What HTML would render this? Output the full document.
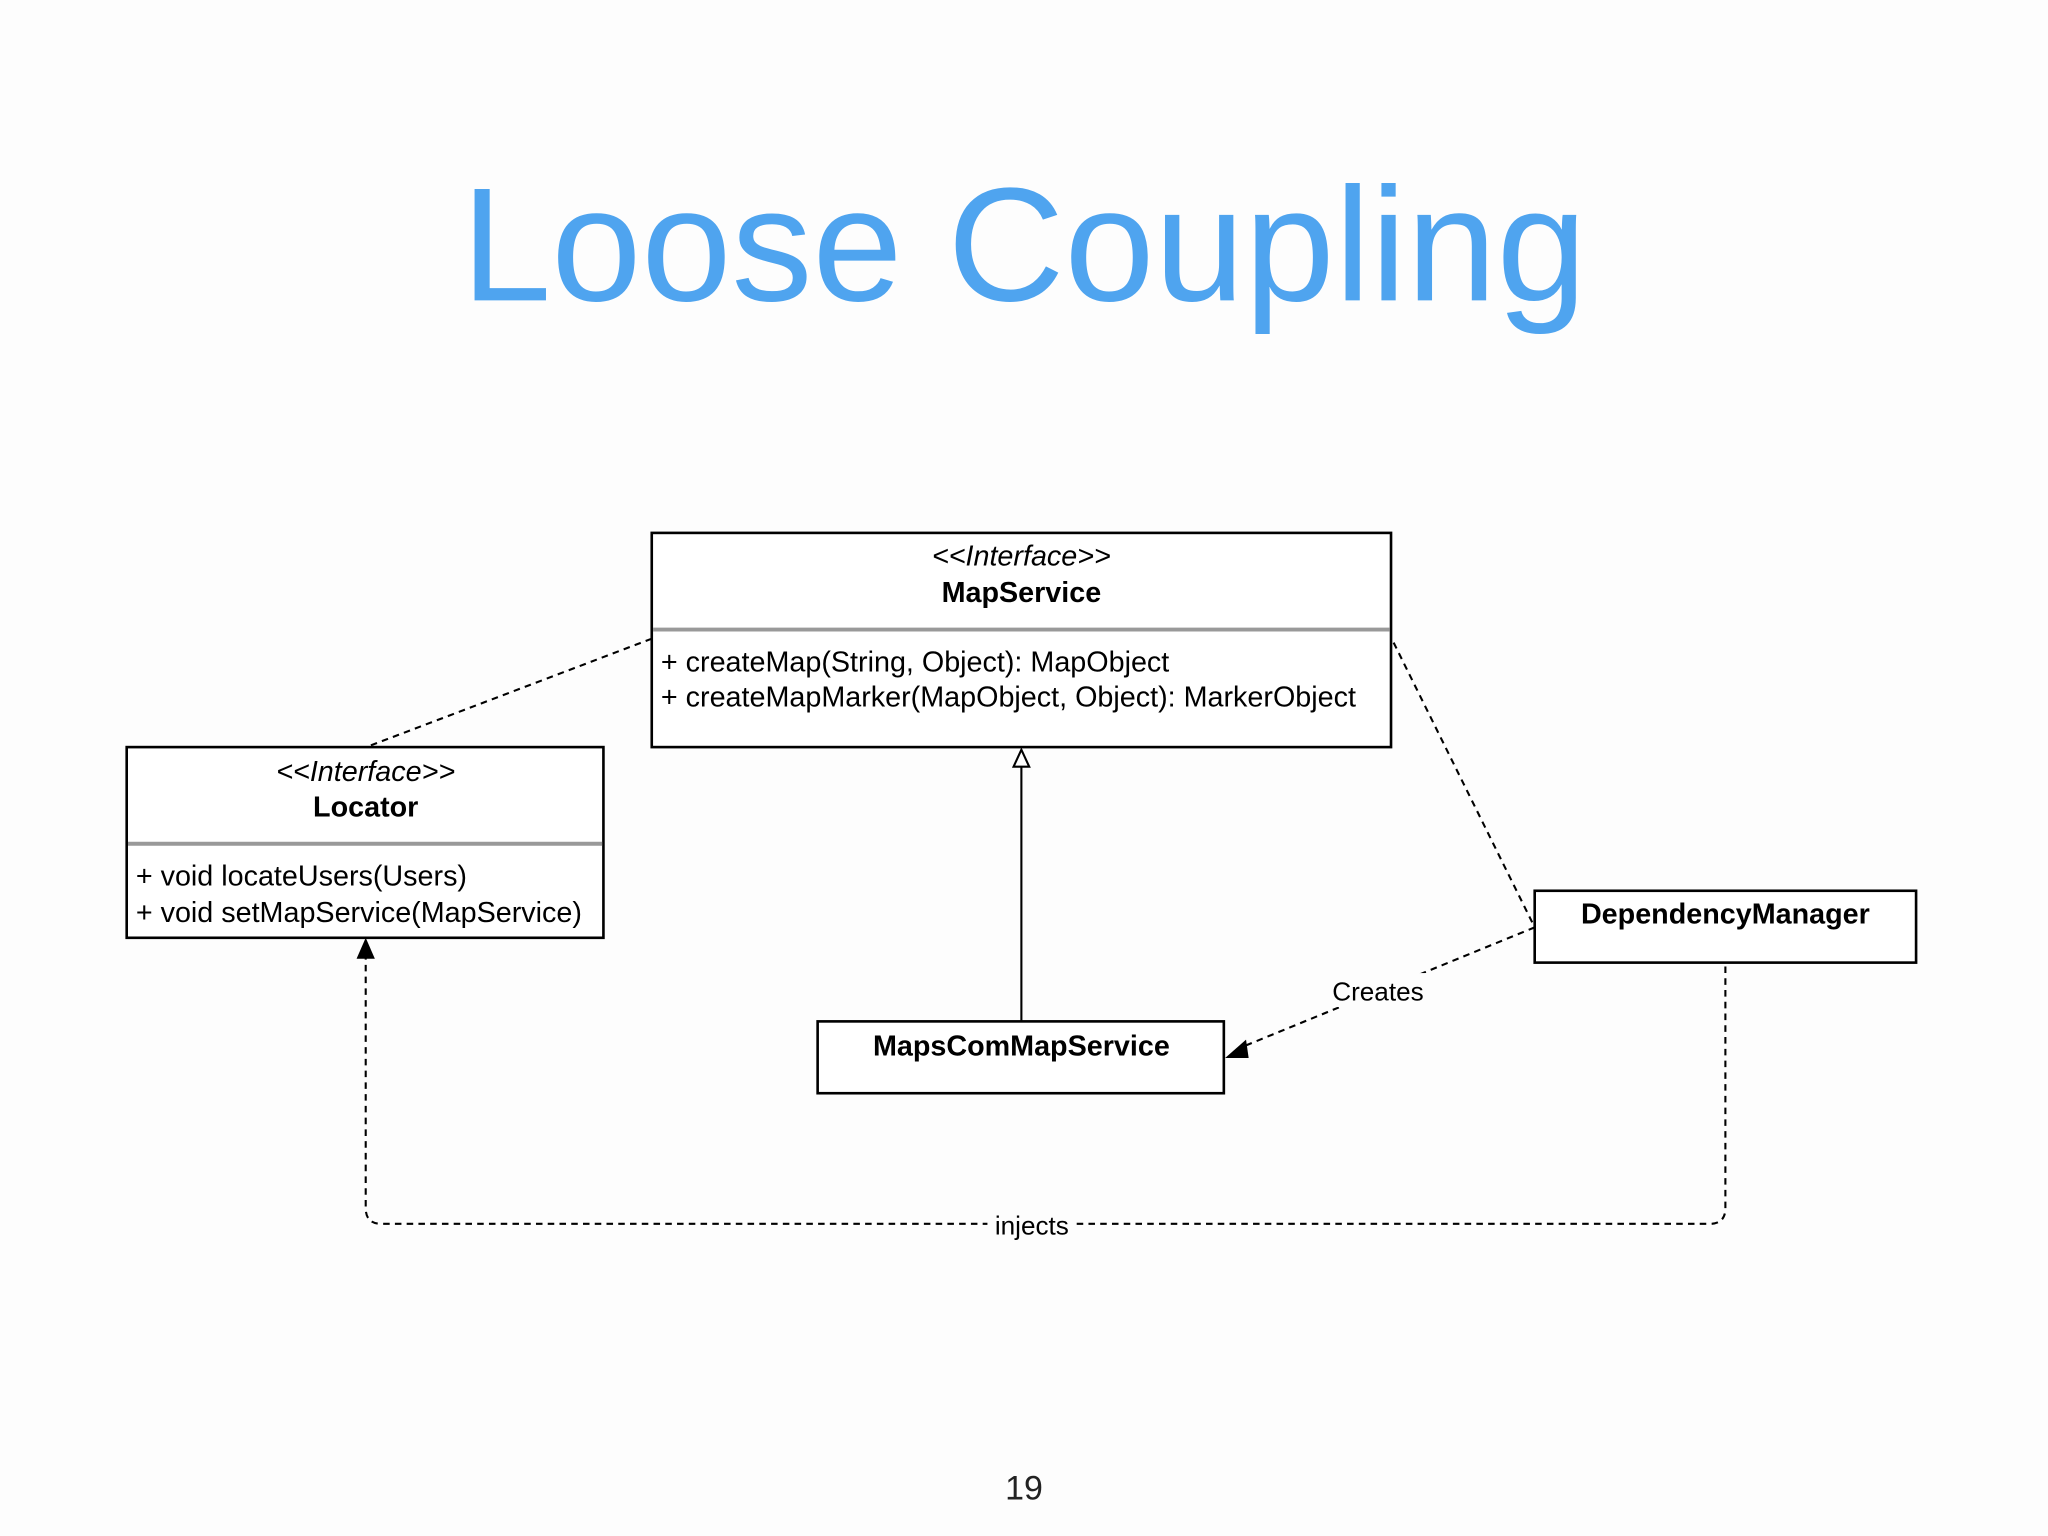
<!DOCTYPE html>
<html><head><meta charset="utf-8"><style>
html,body{margin:0;padding:0;background:#fdfdfd;}
svg{display:block}
text{font-family:"Liberation Sans",sans-serif;}
</style></head><body>
<svg width="2048" height="1536" viewBox="0 0 1568 1176" xmlns="http://www.w3.org/2000/svg">
<rect width="1568" height="1176" fill="#fdfdfd"/>
<text x="784" y="230" text-anchor="middle" font-size="124" fill="#4fa4ef">Loose Coupling</text>

<g fill="none" stroke="#000" stroke-width="1.6" stroke-dasharray="5,4">
<line x1="499" y1="489" x2="283" y2="571"/>
<line x1="1067" y1="492" x2="1175" y2="710"/>
<line x1="1175" y1="710" x2="950" y2="802"/>
<path d="M1321 740 V925 Q1321 937 1309 937 H292 Q280 937 280 925 V733"/>
</g>
<polygon points="938,810 954,796 956,810" fill="#000"/>
<polygon points="280,718 273,734 287,734" fill="#000"/>
<line x1="782" y1="782" x2="782" y2="587" stroke="#000" stroke-width="1.6"/>
<polygon points="782,574 776,587 788,587" fill="#fff" stroke="#000" stroke-width="1.6"/>

<rect x="1012" y="745" width="86" height="26" fill="#fdfdfd"/>
<text x="1055" y="766" text-anchor="middle" font-size="20">Creates</text>
<rect x="756" y="925" width="68" height="26" fill="#fdfdfd"/>
<text x="790" y="945" text-anchor="middle" font-size="20">injects</text>

<g stroke="#000" stroke-width="2" fill="#fff">
<rect x="499" y="408" width="566" height="164"/>
<rect x="97" y="572" width="365" height="146"/>
<rect x="626" y="782" width="311" height="55"/>
<rect x="1175" y="682" width="292" height="55"/>
</g>
<line x1="500" y1="482" x2="1064" y2="482" stroke="#999" stroke-width="3"/>
<line x1="98" y1="646" x2="461" y2="646" stroke="#999" stroke-width="3"/>

<g font-size="22">
<text x="782" y="433" text-anchor="middle" font-style="italic">&lt;&lt;Interface&gt;&gt;</text>
<text x="782" y="461" text-anchor="middle" font-weight="bold">MapService</text>
<text x="506" y="514">+ createMap(String, Object): MapObject</text>
<text x="506" y="541">+ createMapMarker(MapObject, Object): MarkerObject</text>
<text x="280" y="598" text-anchor="middle" font-style="italic">&lt;&lt;Interface&gt;&gt;</text>
<text x="280" y="625" text-anchor="middle" font-weight="bold">Locator</text>
<text x="104" y="678">+ void locateUsers(Users)</text>
<text x="104" y="706">+ void setMapService(MapService)</text>
<text x="782" y="808" text-anchor="middle" font-weight="bold">MapsComMapService</text>
<text x="1321" y="707" text-anchor="middle" font-weight="bold">DependencyManager</text>
</g>
<text x="784" y="1148" text-anchor="middle" font-size="26" fill="#222">19</text>
</svg>
</body></html>
